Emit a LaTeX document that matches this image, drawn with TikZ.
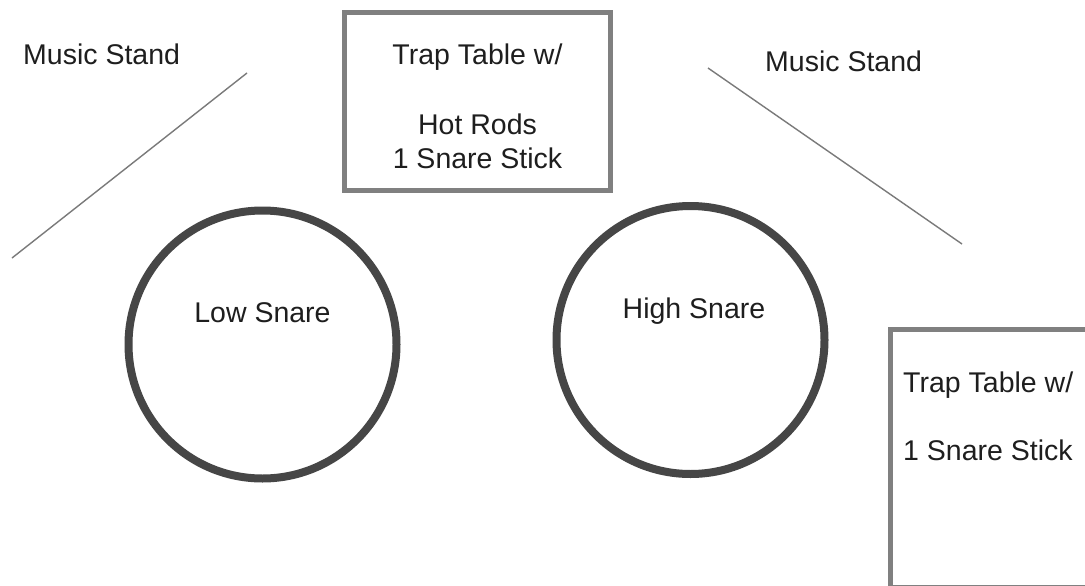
\documentclass[tikz,border=0pt]{standalone}
\usepackage{fontspec}
\setmainfont{Liberation Sans}
\definecolor{boxgray}{HTML}{808080}
\definecolor{drumgray}{HTML}{464646}
\definecolor{linegray}{HTML}{7A7A7A}
\definecolor{textgray}{HTML}{1E1E1E}
\tikzset{
  lbl/.style={anchor=base west, inner sep=0pt, text=textgray, font=\fontsize{28.5}{34}\selectfont},
  clbl/.style={anchor=base, inner sep=0pt, text=textgray, font=\fontsize{28.5}{34}\selectfont},
  tablebox/.style={draw=boxgray, line width=5pt, fill=white, inner sep=0pt},
  drum/.style={draw=drumgray, line width=8pt, circle, inner sep=0pt},
  stand/.style={draw=linegray, line width=1.4pt},
}
\begin{document}
\begin{tikzpicture}[x=1pt,y=-1pt]
\useasboundingbox (0,0) rectangle (1085,586);
\fill[white] (0,0) rectangle (1085,586);
\clip (0,0) rectangle (1085,586);
% trap table (top)
\node[tablebox, minimum width=266pt, minimum height=178pt] (table1) at (477.5,101.5) {};
\node[clbl] (t1a) at (477.5,65) {Trap Table w/};
\node[clbl] (t1b) at (477.5,135) {Hot Rods};
\node[clbl] (t1c) at (477.5,168) {1 Snare Stick};
% trap table (right)
\node[tablebox, minimum width=220pt, minimum height=258pt] (table2) at (1000.5,458.5) {};
\node[lbl] (t2a) at (903,392) {Trap Table w/};
\node[lbl] (t2b) at (903,460) {1 Snare Stick};
% drums
\node[drum, minimum size=268pt] (low) at (262.5,344.5) {};
\node[clbl] (lowl) at (262.5,322) {Low Snare};
\node[drum, minimum size=268pt] (high) at (690.5,340) {};
\node[clbl] (highl) at (694,318) {High Snare};
% music stands
\node[lbl] (ms1) at (23,65) {Music Stand};
\coordinate (s1a) at (247,73);
\coordinate (s1b) at (12,258);
\draw[stand] (s1a) -- (s1b);
\node[lbl] (ms2) at (765,71) {Music Stand};
\coordinate (s2a) at (708,68);
\coordinate (s2b) at (962,244);
\draw[stand] (s2a) -- (s2b);
\end{tikzpicture}
\end{document}
